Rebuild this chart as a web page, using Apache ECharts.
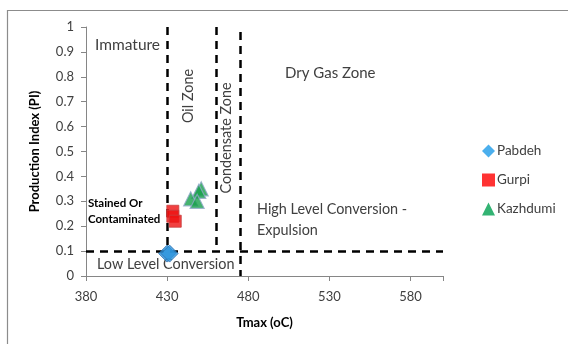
<!DOCTYPE html>
<html>
<head>
<meta charset="utf-8">
<script src="https://cdn.jsdelivr.net/npm/echarts@6/dist/echarts.min.js"></script>
<style>
  html, body { margin: 0; padding: 0; background: #fff; }
  #chart { width: 568px; height: 344px; }
</style>
</head>
<body>
<div id="chart"></div>
<script>
// Tmax (oC) vs Production Index (PI) for three formations
const pabdeh = [[430, 0.09], [431.5, 0.09]];
const gurpi = [[433.5, 0.26], [433.5, 0.24], [435, 0.22]];
const kazhdumi = [[451, 0.35], [449.5, 0.34], [444.5, 0.31], [448.5, 0.30]];

// Maturity zone boundaries: [x1, y1, x2, y2]
const boundaries = [
  [430, 1.0, 430, 0.1],
  [460, 1.0, 460, 0.1],
  [475, 0.98, 475, 0],
  [380, 0.1, 600, 0.1]
];

const xTicks = { min: 380, max: 600, interval: 50 };
const yTicks = { min: 0, max: 1, interval: 0.1 };

const FONT = 'Lato, "Open Sans", sans-serif';
const TEXT = '#404040';
const NOTE = '14.4px ' + FONT;

const chart = echarts.init(document.getElementById('chart'), null, { renderer: 'canvas' });

const option = {
  animation: false,
  backgroundColor: '#fff',
  grid: { left: 86, right: 125, top: 27, bottom: 68 },
  xAxis: {
    type: 'value',
    min: xTicks.min, max: xTicks.max, interval: xTicks.interval,
    name: 'Tmax (oC)', nameLocation: 'middle', nameGap: 40,
    nameTextStyle: { fontFamily: FONT, fontWeight: 'bold', fontSize: 13, color: '#000' },
    axisLine: { lineStyle: { color: '#868686' } },
    axisTick: { show: true, length: 5, lineStyle: { color: '#868686' } },
    axisLabel: { fontFamily: FONT, fontSize: 13, color: TEXT, margin: 14,
      formatter: v => (v > 580 ? '' : String(v)) },
    splitLine: { show: false }
  },
  yAxis: {
    type: 'value',
    min: yTicks.min, max: yTicks.max, interval: yTicks.interval,
    name: 'Production Index (PI)', nameLocation: 'middle', nameGap: 45,
    nameTextStyle: { fontFamily: FONT, fontWeight: 'bold', fontSize: 13, color: '#000' },
    axisLine: { show: true, lineStyle: { color: '#868686' } },
    axisTick: { show: true, length: 5, lineStyle: { color: '#868686' } },
    axisLabel: { fontFamily: FONT, fontSize: 13, color: TEXT, margin: 12,
      formatter: v => String(Math.round(v * 10) / 10) },
    splitLine: { show: false }
  },
  legend: {
    orient: 'vertical', left: 477, top: 139, itemGap: 15,
    itemWidth: 13, itemHeight: 13,
    textStyle: { fontFamily: FONT, fontSize: 13.5, color: TEXT, padding: [0, 0, 0, -3] },
    data: [
      { name: 'Pabdeh', icon: 'diamond', itemStyle: { color: '#1E9BE8', borderWidth: 0 } },
      { name: 'Gurpi', icon: 'rect', itemStyle: { color: '#FF0000', borderWidth: 0 } },
      { name: 'Kazhdumi', icon: 'triangle', itemStyle: { color: '#00A050', borderWidth: 0 } }
    ]
  },
  series: [
    {
      name: 'zones', type: 'scatter', data: [], silent: true,
      markLine: {
        silent: true, symbol: 'none', animation: false,
        label: { show: false },
        lineStyle: { color: '#000', type: [8, 6], width: 2.5 },
        data: boundaries.map(b => [{ coord: [b[0], b[1]] }, { coord: [b[2], b[3]] }])
      }
    },
    {
      name: 'Pabdeh', type: 'scatter', data: pabdeh, symbol: 'diamond', symbolSize: 17,
      itemStyle: { color: '#2E95DC', borderColor: '#2A6FB0', borderWidth: 1 }, z: 5
    },
    {
      name: 'Gurpi', type: 'scatter', data: gurpi, symbol: 'rect', symbolSize: 12,
      itemStyle: { color: '#EE1010', borderColor: '#C84040', borderWidth: 1 }, z: 5
    },
    {
      name: 'Kazhdumi', type: 'scatter', data: kazhdumi, symbol: 'triangle', symbolSize: 14,
      itemStyle: { color: '#16A04A', borderColor: '#8FA8C8', borderWidth: 1.2 }, z: 5
    }
  ],
  graphic: [
    { type: 'rect', shape: { x: 7.5, y: 10.5, width: 600, height: 400 }, silent: true,
      style: { fill: 'none', stroke: '#8C8C8C', lineWidth: 1.2 }, z: -1 },
    { type: 'text', left: 95, top: 37, style: { text: 'Immature', font: '15.5px ' + FONT, fill: TEXT } },
    { type: 'text', x: 188, y: 96, rotation: Math.PI / 2,
      style: { text: 'Oil Zone', font: NOTE, fill: TEXT, align: 'center', verticalAlign: 'middle' } },
    { type: 'text', x: 226, y: 138, rotation: Math.PI / 2,
      style: { text: 'Condensate Zone', font: NOTE, fill: TEXT, align: 'center', verticalAlign: 'middle' } },
    { type: 'text', left: 285, top: 66, style: { text: 'Dry Gas Zone', font: '15px ' + FONT, fill: TEXT } },
    { type: 'text', left: 88, top: 195, style: { text: 'Stained Or\nContaminated', font: 'bold 11.5px ' + FONT, fill: '#000', lineHeight: 16 } },
    { type: 'text', left: 257, top: 199, style: { text: 'High Level Conversion -\nExpulsion', font: NOTE, fill: TEXT, lineHeight: 21 } },
    { type: 'text', left: 97, top: 257, style: { text: 'Low Level Conversion', font: NOTE, fill: TEXT } }
  ]
};

chart.setOption(option);
</script>
</body>
</html>
